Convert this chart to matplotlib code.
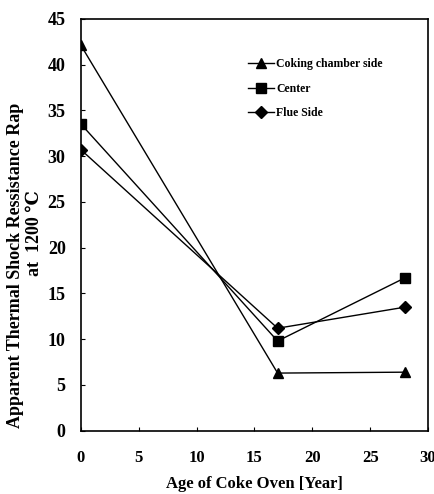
import matplotlib
matplotlib.use('Agg')
import matplotlib.pyplot as plt

plt.rcParams['font.family'] = ['Liberation Serif', 'DejaVu Serif']
plt.rcParams['font.weight'] = 'bold'

age = [0, 17, 28]
coking = [42.1, 6.3, 6.4]
center = [33.5, 9.8, 16.7]
flue = [30.7, 11.2, 13.5]
labels = ['Coking chamber side', 'Center', 'Flue Side']

fig = plt.figure(figsize=(4.35, 4.94), dpi=100)
ax = fig.add_axes([0.186, 0.128, 0.798, 0.834])

ax.plot(age, coking, color='black', lw=1, marker='^', ms=7, label=labels[0])
ax.plot(age, center, color='black', lw=1, marker='s', ms=7, label=labels[1])
ax.plot(age, flue, color='black', lw=1, marker='D', ms=6, label=labels[2])

ax.set_xlim(0, 30)
ax.set_ylim(0, 45)
ax.set_xticks(range(0, 31, 5))
ax.set_yticks(range(0, 46, 5))
ax.tick_params(direction='in', length=3, labelsize=12, pad=14)
ax.tick_params(axis='y', labelsize=13, pad=11)
for s in ax.spines.values():
    s.set_linewidth(1.2)

ax.set_xlabel('Age of Coke Oven [Year]', fontsize=12, fontweight='bold', labelpad=7)
# y label: two lines placed separately, like the original
fig.text(0.036, 0.463, 'Apparent Thermal Shock Ressistance Rap', rotation=90,
         ha='center', va='center', fontsize=13, fontweight='bold')
fig.text(0.08, 0.528, 'at  1200 \u2103', rotation=90,
         ha='center', va='center', fontsize=13, fontweight='bold')

leg = ax.legend(loc='upper left', bbox_to_anchor=(0.45, 0.93), frameon=False,
                fontsize=8.5, handlelength=2.2, handletextpad=0.2, labelspacing=1.05)

fig.savefig('out.png', dpi=100)
